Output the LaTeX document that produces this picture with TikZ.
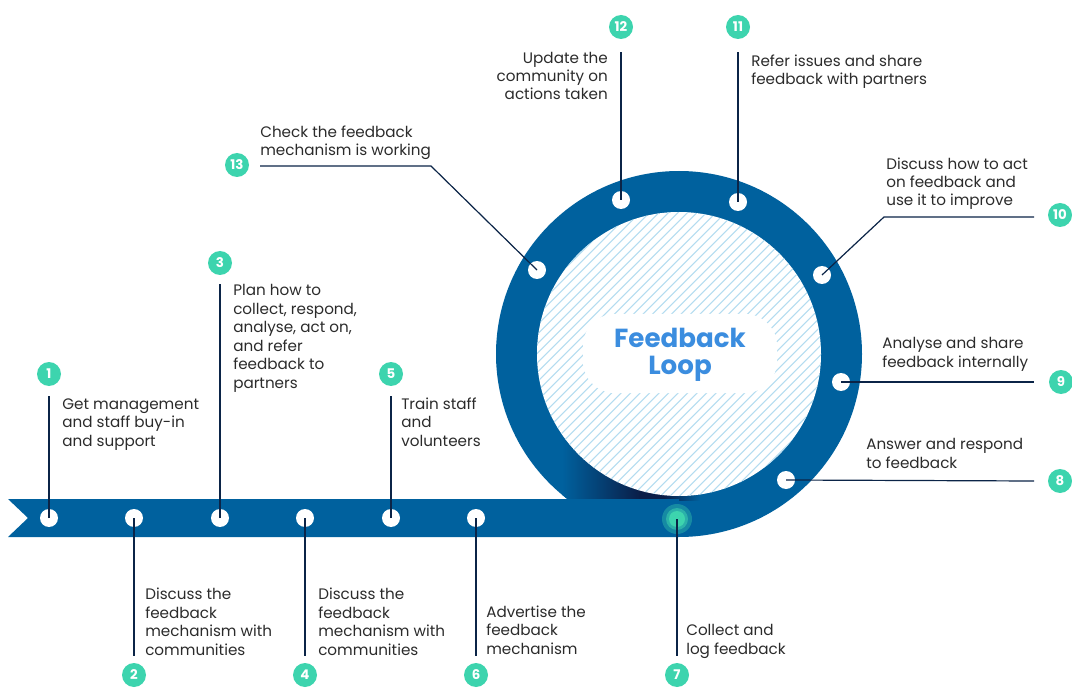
\documentclass[tikz,border=0pt]{standalone}
\usepackage{fontspec}
\setmainfont{Poppins}
\usetikzlibrary{positioning}
\definecolor{ringblue}{HTML}{00619E}
\definecolor{ringnavy}{HTML}{0A1E48}
\definecolor{badgeteal}{HTML}{3DD4AE}
\definecolor{hatchblue}{HTML}{B3DCF0}
\definecolor{loopblue}{HTML}{3B8DDF}
\definecolor{textgray}{HTML}{2B2B2B}
\definecolor{leadnavy}{HTML}{0B2447}
\tikzset{
  stepdot/.style={circle, fill=white, minimum size=13.5pt, inner sep=0pt},
  badge/.style={circle, fill=badgeteal, text=white, minimum size=18pt, inner sep=0pt,
    font=\bfseries\fontsize{10}{10}\selectfont},
  steptext/.style={align=left, anchor=base west, inner sep=0pt, text=textgray,
    font=\fontsize{11.4}{13.85}\selectfont},
  leader/.style={draw=leadnavy, line width=0.9pt}
}
\begin{document}
\begin{tikzpicture}[x=0.75pt,y=-0.75pt]
  \useasboundingbox (0,0) rectangle (1072,688);
  % ring
  \fill[ringblue] (679,354) circle[radius=183];
  \begin{scope}
    \clip (679,354) circle[radius=183];
    \clip (560,420) rectangle (720,500);
    \shade[left color=ringblue, right color=ringnavy, shading angle=90]
      (562,420) rectangle (640,500);
    \fill[ringnavy] (639,420) rectangle (665,500);
    \shade[left color=ringnavy, right color=ringblue, shading angle=90]
      (664,420) rectangle (700,500);
  \end{scope}
  \fill[white] (679,354) circle[radius=142];
  \begin{scope}
    \clip (679,354) circle[radius=142];
    \foreach \k in {-34,...,34}
      \draw[hatchblue, line width=0.8pt] (679+\k*9.5-160,514) -- (679+\k*9.5+160,194);
  \end{scope}
  \fill[white, rounded corners=24] (583,314) rectangle (777,393);
  \node[text=loopblue, align=center, font=\bfseries\fontsize{19.6}{20}\selectfont]
    (hub) at (680,355) {Feedback\\Loop};
  % track
  \fill[ringblue] (8,499) -- (679,499) -- (679,537) -- (8,537) -- (28,518) -- cycle;
  % dots
  \draw
    (49,518) node[stepdot] (d1){}
    (134,518) node[stepdot] (d2){}
    (220,518) node[stepdot] (d3){}
    (305,518) node[stepdot] (d4){}
    (391,518) node[stepdot] (d5){}
    (476,518) node[stepdot] (d6){}
    (786,480) node[stepdot] (d8){}
    (841,382) node[stepdot] (d9){}
    (822,275) node[stepdot] (d10){}
    (738,202) node[stepdot] (d11){}
    (621,200) node[stepdot] (d12){}
    (537,270) node[stepdot] (d13){};
  \fill[badgeteal!45!ringblue, opacity=0.8] (677,519) circle[radius=15];
  \fill[badgeteal!70!ringblue] (677,519) circle[radius=11];
  \node[circle, fill=badgeteal, minimum size=12pt, inner sep=0pt] (d7) at (677,519) {};
  % badges
  \draw
    (49,374) node[badge] (b1){1}
    (134,675) node[badge] (b2){2}
    (220,263) node[badge] (b3){3}
    (305,675) node[badge] (b4){4}
    (391,374) node[badge] (b5){5}
    (476,675) node[badge] (b6){6}
    (677,675) node[badge] (b7){7}
    (1060,481) node[badge] (b8){8}
    (1061,382) node[badge] (b9){9}
    (1060,215) node[badge] (b10){10}
    (738,27) node[badge] (b11){11}
    (621,27) node[badge] (b12){12}
    (237,165) node[badge] (b13){13};
  % leader ends
  \coordinate (e1) at (49,396);
  \coordinate (e2) at (134,656);
  \coordinate (e3) at (220,284);
  \coordinate (e4) at (305,656);
  \coordinate (e5) at (391,396);
  \coordinate (e6) at (476,656);
  \coordinate (e7) at (677,656);
  \coordinate (e8) at (1034,481);
  \coordinate (e9) at (1034,382);
  \coordinate (k10) at (884,217);
  \coordinate (e10) at (1034,217);
  \coordinate (e11) at (738,52);
  \coordinate (e12) at (621,52);
  \coordinate (k13) at (431,166);
  \coordinate (e13) at (260,166);
  \begin{scope}[leader]
    \draw (d1.center) to (e1);
    \draw (d2.center) to (e2);
    \draw (d3.center) to (e3);
    \draw (d4.center) to (e4);
    \draw (d5.center) to (e5);
    \draw (d6.center) to (e6);
    \draw (d7.center) to (e7);
    \draw (d8.center) to (e8);
    \draw (d9.center) to (e9);
    \draw (d10.center) to (k10) to (e10);
    \draw (d11.center) to (e11);
    \draw (d12.center) to (e12);
    \draw (d13.center) to (k13) to (e13);
  \end{scope}
  % texts (anchored at the baseline of the last line)
  \node[steptext] (t1) at (62,446) {Get management\\and staff buy-in\\and support};
  \node[steptext] (t2) at (145,655) {Discuss the\\feedback\\mechanism with\\communities};
  \node[steptext] (t3) at (233,388) {Plan how to\\collect, respond,\\analyse, act on,\\and refer\\feedback to\\partners};
  \node[steptext] (t4) at (318,655) {Discuss the\\feedback\\mechanism with\\communities};
  \node[steptext] (t5) at (401,446) {Train staff\\and\\volunteers};
  \node[steptext] (t6) at (486,654) {Advertise the\\feedback\\mechanism};
  \node[steptext] (t7) at (686,654) {Collect and\\log feedback};
  \node[steptext] (t8) at (866,468) {Answer and respond\\to feedback};
  \node[steptext] (t9) at (882,367) {Analyse and share\\feedback internally};
  \node[steptext] (t10) at (886,206) {Discuss how to act\\on feedback and\\use it to improve};
  \node[steptext] (t11) at (751,85) {Refer issues and share\\feedback with partners};
  \node[steptext, align=right, anchor=base east] (t12) at (608,100) {Update the\\community on\\actions taken};
  \node[steptext] (t13) at (260,156) {Check the feedback\\mechanism is working};
\end{tikzpicture}
\end{document}
